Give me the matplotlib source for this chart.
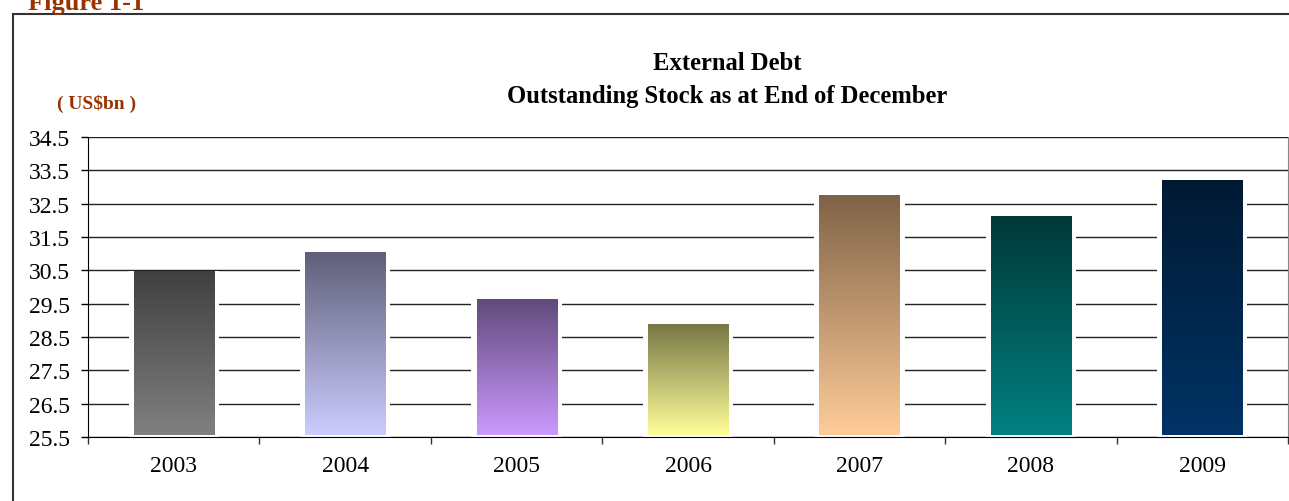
import numpy as np
import matplotlib
matplotlib.use('Agg')
import matplotlib.pyplot as plt
from matplotlib.colors import LinearSegmentedColormap
from matplotlib.patches import Rectangle

years = ['2003', '2004', '2005', '2006', '2007', '2008', '2009']
debt = [30.45, 31.02, 29.6, 28.86, 32.74, 32.1, 33.2]
top_colors = ['#404040', '#5f5f7a', '#604a7b', '#777747', '#7f6347', '#003838', '#001a33']
bottom_colors = ['#808080', '#ccccff', '#cc99ff', '#ffff99', '#ffcc99', '#008080', '#003366']
yticks = [25.5, 26.5, 27.5, 28.5, 29.5, 30.5, 31.5, 32.5, 33.5, 34.5]

plt.rcParams['font.family'] = ['Liberation Serif', 'DejaVu Serif']
brown = '#993300'

fig = plt.figure(figsize=(12.89, 5.02), dpi=100)
ax = fig.add_axes([88 / 1289, 64 / 502, 1200 / 1289, 300 / 502])

# outer frame of the figure box
fig.patches.append(Rectangle((13 / 1289, -0.05), 1.2, 1 - 15 / 502 + 0.05,
                             transform=fig.transFigure, fill=False,
                             edgecolor='#333333', linewidth=1.5, zorder=0))

ymin, ymax = 25.5, 34.5
width = 0.467
for i, v in enumerate(debt):
    # white backing makes the gap in the grid lines around each bar
    ax.bar(i, v - ymin + 0.03, bottom=ymin, width=width + 0.06, color='white',
           edgecolor='none', zorder=2)
    cmap = LinearSegmentedColormap.from_list('g', [bottom_colors[i], top_colors[i]])
    grad = np.linspace(0, 1, 256).reshape(-1, 1)
    ax.imshow(grad, cmap=cmap, origin='lower', aspect='auto', zorder=3,
              extent=(i - width / 2, i + width / 2, ymin + 0.05, v))

ax.set_xlim(-0.5, len(years) - 0.5)
ax.set_ylim(ymin, ymax)
ax.set_yticks(yticks)
ax.set_yticklabels([f'{t:.1f}' for t in yticks])
ax.set_xticks(range(len(years)))
ax.set_xticklabels(years)
ax.set_xticks(np.arange(-0.5, len(years), 1), minor=True)
ax.tick_params(axis='x', which='major', length=0, pad=13, labelsize=17)
ax.tick_params(axis='x', which='minor', length=5, width=1, direction='out', color='#333333')
ax.tick_params(axis='y', length=5, width=1, direction='out', pad=8, labelsize=17)
ax.grid(axis='y', color='#222222', linewidth=1, zorder=1)
ax.set_axisbelow(True)
for s in ['left', 'bottom']:
    ax.spines[s].set_color('black')
    ax.spines[s].set_zorder(4)
ax.spines['top'].set_visible(False)
ax.spines['right'].set_color('#888888')

fig.text(727 / 1289, 1 - 63 / 502, 'External Debt', ha='center', va='center',
         fontsize=17.7, fontweight='bold')
fig.text(727 / 1289, 1 - 96 / 502, 'Outstanding Stock as at End of December',
         ha='center', va='center', fontsize=17.7, fontweight='bold')
fig.text(97 / 1289, 1 - 104 / 502, '( US$bn )', ha='center', va='center',
         fontsize=14, fontweight='bold', color=brown)
fig.text(28 / 1289, 1 - 10 / 502, 'Figure 1-1', ha='left', va='baseline',
         fontsize=19, fontweight='bold', color=brown)

fig.savefig('out.png', dpi=100)
